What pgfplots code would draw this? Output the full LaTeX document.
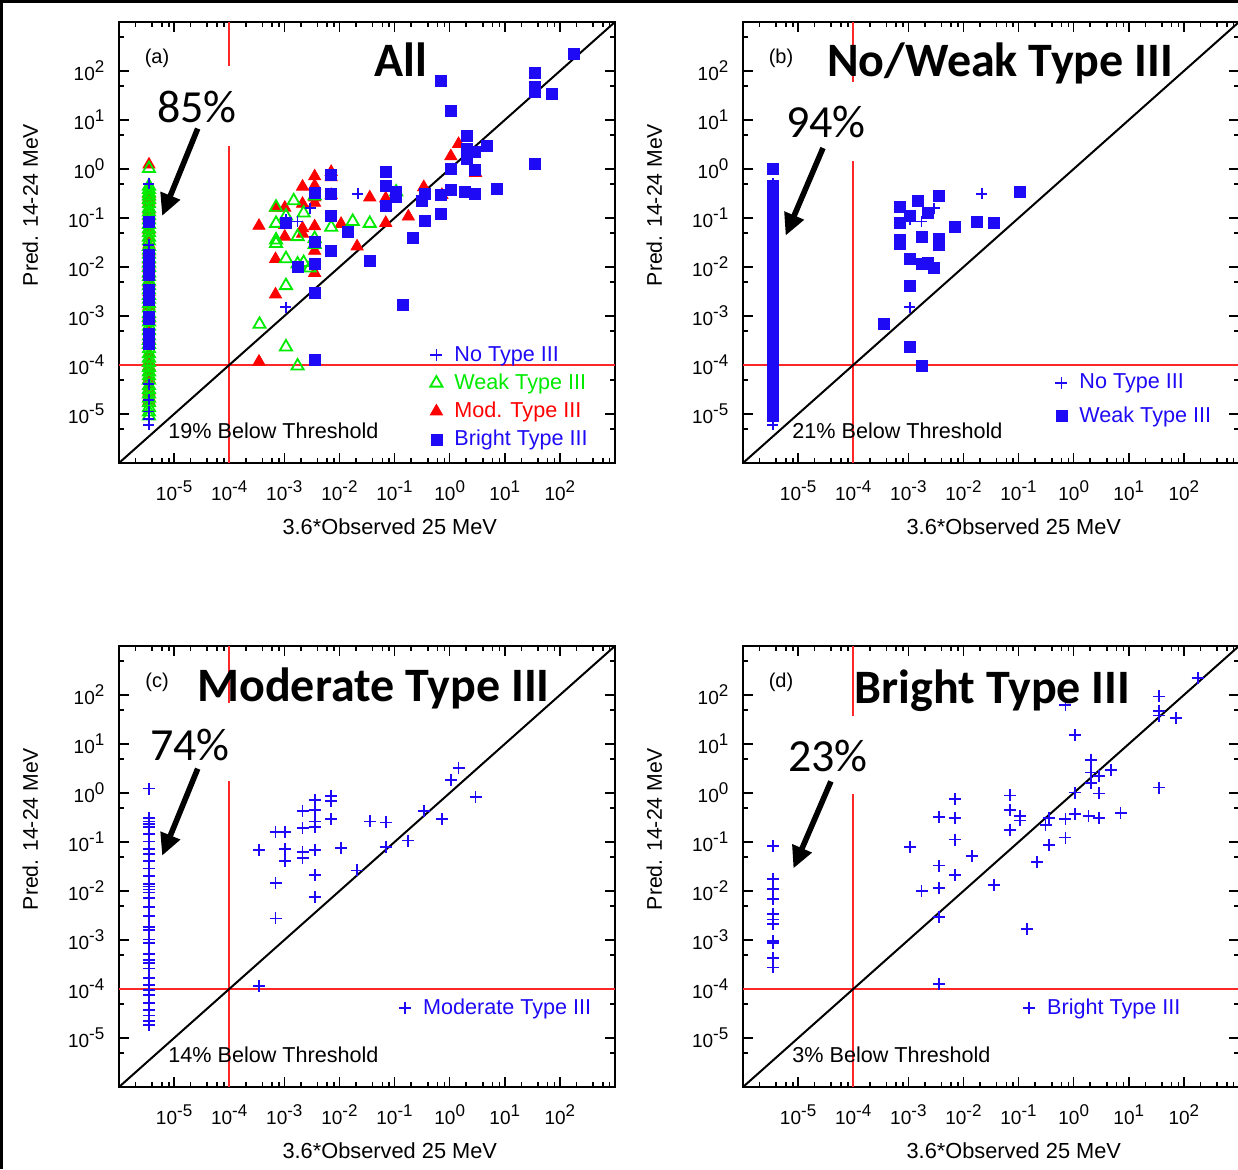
\documentclass[border=0pt]{standalone}
\usepackage{pgfplots}
\pgfplotsset{compat=1.18}
\usepackage{pgfplotstable}
\usetikzlibrary{arrows.meta}
\usepackage{fontspec}
\setmainfont{Liberation Sans}
\newfontfamily\calibri{Carlito}
\definecolor{myblue}{RGB}{30,10,245}
\definecolor{mygreen}{RGB}{0,235,0}
\definecolor{myred}{RGB}{255,0,0}
\definecolor{redline}{RGB}{255,40,40}
\newcommand{\tp}[1]{10\raisebox{4pt}{\fontsize{8.5}{8.5}\selectfont #1}}

% No Type III
\pgfplotstableread{
x y
3.5e-6 0.501
3.5e-6 0.0282
3.5e-6 0.0224
3.5e-6 4.07e-5
3.5e-6 1.95e-5
3.5e-6 1.12e-5
3.5e-6 7.94e-6
3.5e-6 6.03e-6
0.0214 0.309
2.95e-3 0.158
1.74e-3 0.0851
1.07e-3 0.0912
1.07e-3 1.51e-3
}\notype

% Weak Type III
\pgfplotstableread{
x y
3.5e-6 1.02
3.5e-6 0.447
3.5e-6 0.380
3.5e-6 0.324
3.5e-6 0.282
3.5e-6 0.240
3.5e-6 0.195
3.5e-6 0.158
3.5e-6 0.132
3.5e-6 0.112
3.5e-6 0.0912
3.5e-6 0.0741
3.5e-6 0.0603
3.5e-6 0.0501
3.5e-6 0.0407
3.5e-6 0.0339
3.5e-6 0.0263
3.5e-6 0.0219
3.5e-6 0.0182
3.5e-6 0.0148
3.5e-6 0.0120
3.5e-6 0.00977
3.5e-6 0.00759
3.5e-6 0.00631
3.5e-6 0.00513
3.5e-6 0.00417
3.5e-6 0.00339
3.5e-6 0.00263
3.5e-6 0.00219
3.5e-6 0.00178
3.5e-6 0.00145
3.5e-6 0.00112
3.5e-6 9.33e-4
3.5e-6 7.59e-4
3.5e-6 6.17e-4
3.5e-6 5.01e-4
3.5e-6 3.89e-4
3.5e-6 3.16e-4
3.5e-6 2.63e-4
3.5e-6 2.14e-4
3.5e-6 1.70e-4
3.5e-6 1.38e-4
3.5e-6 1.12e-4
3.5e-6 8.91e-5
3.5e-6 7.24e-5
3.5e-6 6.03e-5
3.5e-6 4.90e-5
3.5e-6 3.80e-5
3.5e-6 3.16e-5
3.5e-6 2.57e-5
3.5e-6 2.09e-5
3.5e-6 1.70e-5
3.5e-6 1.35e-5
3.5e-6 1.10e-5
3.5e-6 9.1e-6
7.08e-4 0.166
7.08e-4 0.0776
7.08e-4 0.0355
7.08e-4 0.0302
1.07e-3 0.110
1.07e-3 0.0148
1.07e-3 0.00417
1.07e-3 2.34e-4
3.55e-4 6.76e-4
1.48e-3 0.224
2.24e-3 0.126
1.74e-3 0.0417
1.74e-3 0.0115
2.24e-3 0.0123
1.74e-3 9.55e-5
2.88e-3 0.00955
3.55e-3 0.282
3.55e-3 0.0380
3.55e-3 0.0288
7.08e-3 0.0646
0.0174 0.0851
0.0355 0.0776
0.107 0.339
}\weak

% Moderate Type III
\pgfplotstableread{
x y
3.5e-6 1.23
3.5e-6 0.309
3.5e-6 0.263
3.5e-6 0.229
3.5e-6 0.204
3.5e-6 0.145
3.5e-6 0.102
3.5e-6 0.0724
3.5e-6 0.0562
3.5e-6 0.0407
3.5e-6 0.0288
3.5e-6 0.0204
3.5e-6 0.0141
3.5e-6 0.0123
3.5e-6 0.0107
3.5e-6 0.00933
3.5e-6 0.00724
3.5e-6 0.00479
3.5e-6 0.00309
3.5e-6 0.00186
3.5e-6 0.00158
3.5e-6 0.00102
3.5e-6 8.71e-4
3.5e-6 5.25e-4
3.5e-6 3.98e-4
3.5e-6 3.39e-4
3.5e-6 2.63e-4
3.5e-6 1.70e-4
3.5e-6 1.20e-4
3.5e-6 9.55e-5
3.5e-6 7.41e-5
3.5e-6 5.25e-5
3.5e-6 3.72e-5
3.5e-6 2.88e-5
3.5e-6 2.24e-5
3.5e-6 1.86e-5
3.47e-4 0.0692
3.47e-4 1.17e-4
6.92e-4 0.162
6.92e-4 0.0145
6.92e-4 0.00275
1.02e-3 0.162
1.02e-3 0.0724
1.02e-3 0.0417
2.14e-3 0.437
2.14e-3 0.195
2.14e-3 0.0617
2.14e-3 0.0479
3.55e-3 0.708
3.55e-3 0.457
3.55e-3 0.263
3.55e-3 0.204
3.55e-3 0.0676
3.55e-3 0.0214
3.55e-3 0.00759
7.08e-3 0.871
7.08e-3 0.676
7.08e-3 0.295
0.0107 0.0759
0.0209 0.0263
0.0355 0.263
0.0692 0.251
0.0692 0.0794
0.178 0.107
0.339 0.427
0.724 0.295
1.05 1.82
1.45 3.24
2.95 0.832
}\moder

% Bright Type III
\pgfplotstableread{
x y
3.5e-6 0.0832
3.5e-6 0.0178
3.5e-6 0.0110
3.5e-6 0.00676
3.5e-6 0.00339
3.5e-6 0.00263
3.5e-6 0.00214
3.5e-6 9.55e-4
3.5e-6 8.71e-4
3.5e-6 4.37e-4
3.5e-6 2.75e-4
1.07e-3 0.0794
1.74e-3 0.0100
3.55e-3 0.324
3.55e-3 0.0331
3.55e-3 0.0115
3.55e-3 0.00295
3.55e-3 1.26e-4
7.08e-3 0.741
7.08e-3 0.309
7.08e-3 0.112
7.08e-3 0.0214
0.0145 0.0525
0.0355 0.0132
0.0708 0.891
0.0708 0.457
0.0708 0.178
0.107 0.339
0.107 0.275
0.141 1.70e-3
0.214 0.0389
0.309 0.224
0.355 0.0871
0.355 0.309
0.708 61.7
0.708 0.295
0.708 0.123
1.07 15.1
1.07 1.02
1.07 0.372
1.86 0.339
2.09 4.79
2.09 2.63
2.09 1.58
2.88 2.24
2.88 0.977
2.88 0.309
4.68 2.95
7.08 0.398
35.5 93.3
35.5 47.9
35.5 38.0
35.5 1.29
70.8 33.9
178 224
}\bright

\pgfplotsset{
  mypanel/.style={
    scale only axis, width=248pt, height=220.5pt, anchor=south west,
    xmin=1e-6, xmax=1e3, ymin=1e-6, ymax=1e3,
    axis line style={line width=0.9pt},
    tick align=inside, tick pos=both,
    major tick length=5pt, minor tick length=2.5pt,
    every tick/.style={black, line width=0.8pt},
    xtick={1e-5,1e-4,1e-3,1e-2,1e-1,1,1e1,1e2},
    xticklabels={\tp{-5},\tp{-4},\tp{-3},\tp{-2},\tp{-1},\tp{0},\tp{1},\tp{2}},
    ytick={1e-5,1e-4,1e-3,1e-2,1e-1,1,1e1,1e2},
    yticklabels={\tp{-5},\tp{-4},\tp{-3},\tp{-2},\tp{-1},\tp{0},\tp{1},\tp{2}},
    minor xtick={2e-6,4e-6,6e-6,8e-6,2e-5,4e-5,6e-5,8e-5,2e-4,4e-4,6e-4,8e-4,2e-3,4e-3,6e-3,8e-3,2e-2,4e-2,6e-2,8e-2,0.2,0.4,0.6,0.8,2,4,6,8,20,40,60,80,200,400,600,800},
    minor ytick={5e-6,5e-5,5e-4,5e-3,5e-2,0.5,5,50,500},
    ticklabel style={font=\fontsize{9.5}{10}\selectfont},
    x tick label style={anchor=center, yshift=-13.75pt},
    y tick label style={anchor=east, xshift=-3.8pt},
    xlabel={3.6*Observed 25 MeV},
    ylabel={Pred. 14-24 MeV},
    every axis x label/.style={at={(axis description cs:0.546,-0.145)}, anchor=center, font=\fontsize{10.9}{13}\selectfont},
    every axis y label/.style={at={(axis description cs:-0.179,0.585)}, anchor=center, rotate=90, font=\fontsize{10.6}{13}\selectfont},
    legend image code/.code={\path[draw=none,fill=none] (0pt,-3pt) rectangle (10pt,3pt); \draw[##1] plot coordinates {(5pt,0pt)};},
    legend cell align=left,
    legend style={draw=none, fill=none, inner sep=0pt, column sep=3pt,
      nodes={inner sep=1pt}, row sep=2.8pt, font=\fontsize{10.8}{12}\selectfont},
  },
  refl/.style={redline, line width=0.8pt, forget plot},
}

\begin{document}
\begin{tikzpicture}
\useasboundingbox (0,0) rectangle (619pt,584.5pt);

% (a)
\begin{loglogaxis}[mypanel, at={(59.5pt,353pt)},
  legend style={at={(axis description cs:0.619,0.270)}, anchor=north west}]
\addplot[refl] coordinates {(1e-6,1e-4) (1e3,1e-4)};
\addplot[refl] coordinates {(1e-4,1e-6) (1e-4,1e3)};
\addplot[black, line width=1pt, forget plot] coordinates {(1e-6,1e-6) (1e3,1e3)};
\addplot[only marks, mark=triangle*, mark size=3.5pt, color=myred, forget plot] table {\moder};
\addplot[only marks, mark=triangle, mark size=3.5pt, color=mygreen, line width=0.9pt, forget plot] table {\weak};
\addplot[only marks, mark=square*, mark size=2.75pt, color=myblue, forget plot] table {\bright};
\addplot[only marks, mark=+, mark size=2.75pt, color=myblue, line width=0.9pt, forget plot] table {\notype};
\addlegendimage{only marks, mark=+, mark size=3pt, color=myblue, line width=0.9pt}
\addlegendentry{\textcolor{myblue}{No Type III}}
\addlegendimage{only marks, mark=triangle, mark size=3.5pt, color=mygreen, line width=0.9pt}
\addlegendentry{\textcolor{mygreen}{Weak Type III}}
\addlegendimage{only marks, mark=triangle*, mark size=3.5pt, color=myred}
\addlegendentry{\textcolor{myred}{Mod. Type III}}
\addlegendimage{only marks, mark=square*, mark size=2.75pt, color=myblue}
\addlegendentry{\textcolor{myblue}{Bright Type III}}
\end{loglogaxis}

% (b)
\begin{loglogaxis}[mypanel, at={(371.5pt,353pt)},
  legend style={at={(axis description cs:0.621,0.207)}, anchor=north west, row sep=5.3pt}]
\addplot[refl] coordinates {(1e-6,1e-4) (1e3,1e-4)};
\addplot[refl] coordinates {(1e-4,1e-6) (1e-4,1e3)};
\addplot[black, line width=1pt, forget plot] coordinates {(1e-6,1e-6) (1e3,1e3)};
\addplot[only marks, mark=square*, mark size=2.75pt, color=myblue, forget plot] table {\weak};
\addplot[only marks, mark=+, mark size=2.75pt, color=myblue, line width=0.9pt, forget plot] table {\notype};
\addlegendimage{only marks, mark=+, mark size=3pt, color=myblue, line width=0.9pt}
\addlegendentry{\textcolor{myblue}{No Type III}}
\addlegendimage{only marks, mark=square*, mark size=2.75pt, color=myblue}
\addlegendentry{\textcolor{myblue}{Weak Type III}}
\end{loglogaxis}

% (c)
\begin{loglogaxis}[mypanel, at={(59.5pt,41pt)},
  legend style={at={(axis description cs:0.556,0.206)}, anchor=north west}]
\addplot[refl] coordinates {(1e-6,1e-4) (1e3,1e-4)};
\addplot[refl] coordinates {(1e-4,1e-6) (1e-4,1e3)};
\addplot[black, line width=1pt, forget plot] coordinates {(1e-6,1e-6) (1e3,1e3)};
\addplot[only marks, mark=+, mark size=3pt, color=myblue, line width=0.9pt, forget plot] table {\moder};
\addlegendimage{only marks, mark=+, mark size=3pt, color=myblue, line width=0.9pt}
\addlegendentry{\textcolor{myblue}{Moderate Type III}}
\end{loglogaxis}

% (d)
\begin{loglogaxis}[mypanel, at={(371.5pt,41pt)},
  legend style={at={(axis description cs:0.556,0.206)}, anchor=north west}]
\addplot[refl] coordinates {(1e-6,1e-4) (1e3,1e-4)};
\addplot[refl] coordinates {(1e-4,1e-6) (1e-4,1e3)};
\addplot[black, line width=1pt, forget plot] coordinates {(1e-6,1e-6) (1e3,1e3)};
\addplot[only marks, mark=+, mark size=3pt, color=myblue, line width=0.9pt, forget plot] table {\bright};
\addlegendimage{only marks, mark=+, mark size=3pt, color=myblue, line width=0.9pt}
\addlegendentry{\textcolor{myblue}{Bright Type III}}
\end{loglogaxis}

% annotations in pixel coordinates of the reference
\begin{scope}[x=0.5pt, y=-0.5pt, yshift=584.5pt]
\fill[black] (0,0) rectangle (1238,3);
\fill[black] (0,0) rectangle (3,1169);
\fill[white] (223,66) rectangle (235,146);
\fill[white] (847,82) rectangle (859,161);
\fill[white] (223,703) rectangle (235,781);
\fill[white] (847,716) rectangle (859,794);
\node[font=\fontsize{10}{12}\selectfont] at (157,58) {(a)};
\node[font=\fontsize{10}{12}\selectfont] at (781,58) {(b)};
\node[font=\fontsize{10}{12}\selectfont] at (157,682) {(c)};
\node[font=\fontsize{10}{12}\selectfont] at (781,682) {(d)};
\node[font=\calibri\bfseries\fontsize{24}{28}\selectfont, anchor=base, inner sep=0pt] at (401,77) {All};
\node[font=\calibri\bfseries\fontsize{24}{28}\selectfont, anchor=base, inner sep=0pt] at (1000,77) {No/Weak Type III};
\node[font=\calibri\bfseries\fontsize{24}{28}\selectfont, anchor=base, inner sep=0pt] at (373.5,701.5) {Moderate Type III};
\node[font=\calibri\bfseries\fontsize{24}{28}\selectfont, anchor=base, inner sep=0pt] at (992.5,703.5) {Bright Type III};
\node[font=\calibri\fontsize{23}{27}\selectfont, anchor=base, inner sep=0pt] at (197,123) {85\%};
\node[font=\calibri\fontsize{23}{27}\selectfont, anchor=base, inner sep=0pt] at (826,138) {94\%};
\node[font=\calibri\fontsize{23}{27}\selectfont, anchor=base, inner sep=0pt] at (190,760.5) {74\%};
\node[font=\calibri\fontsize{23}{27}\selectfont, anchor=base, inner sep=0pt] at (828,771.5) {23\%};
\draw[line width=2.8pt, -{Triangle[length=11pt,width=10pt]}] (197.7,128.6) -- (162.1,216);
\draw[line width=2.8pt, -{Triangle[length=11pt,width=10pt]}] (823,148) -- (785.6,235.7);
\draw[line width=2.8pt, -{Triangle[length=11pt,width=10pt]}] (197.7,768.7) -- (162.1,855.8);
\draw[line width=2.8pt, -{Triangle[length=11pt,width=10pt]}] (830.9,781.4) -- (793.4,868.5);
\node[font=\fontsize{10.8}{12}\selectfont, anchor=west, inner sep=0pt] at (168,430.5) {19\% Below Threshold};
\node[font=\fontsize{10.8}{12}\selectfont, anchor=west, inner sep=0pt] at (792,430.5) {21\% Below Threshold};
\node[font=\fontsize{10.8}{12}\selectfont, anchor=west, inner sep=0pt] at (168,1055) {14\% Below Threshold};
\node[font=\fontsize{10.8}{12}\selectfont, anchor=west, inner sep=0pt] at (792,1055) {3\% Below Threshold};
\end{scope}
\end{tikzpicture}
\end{document}
